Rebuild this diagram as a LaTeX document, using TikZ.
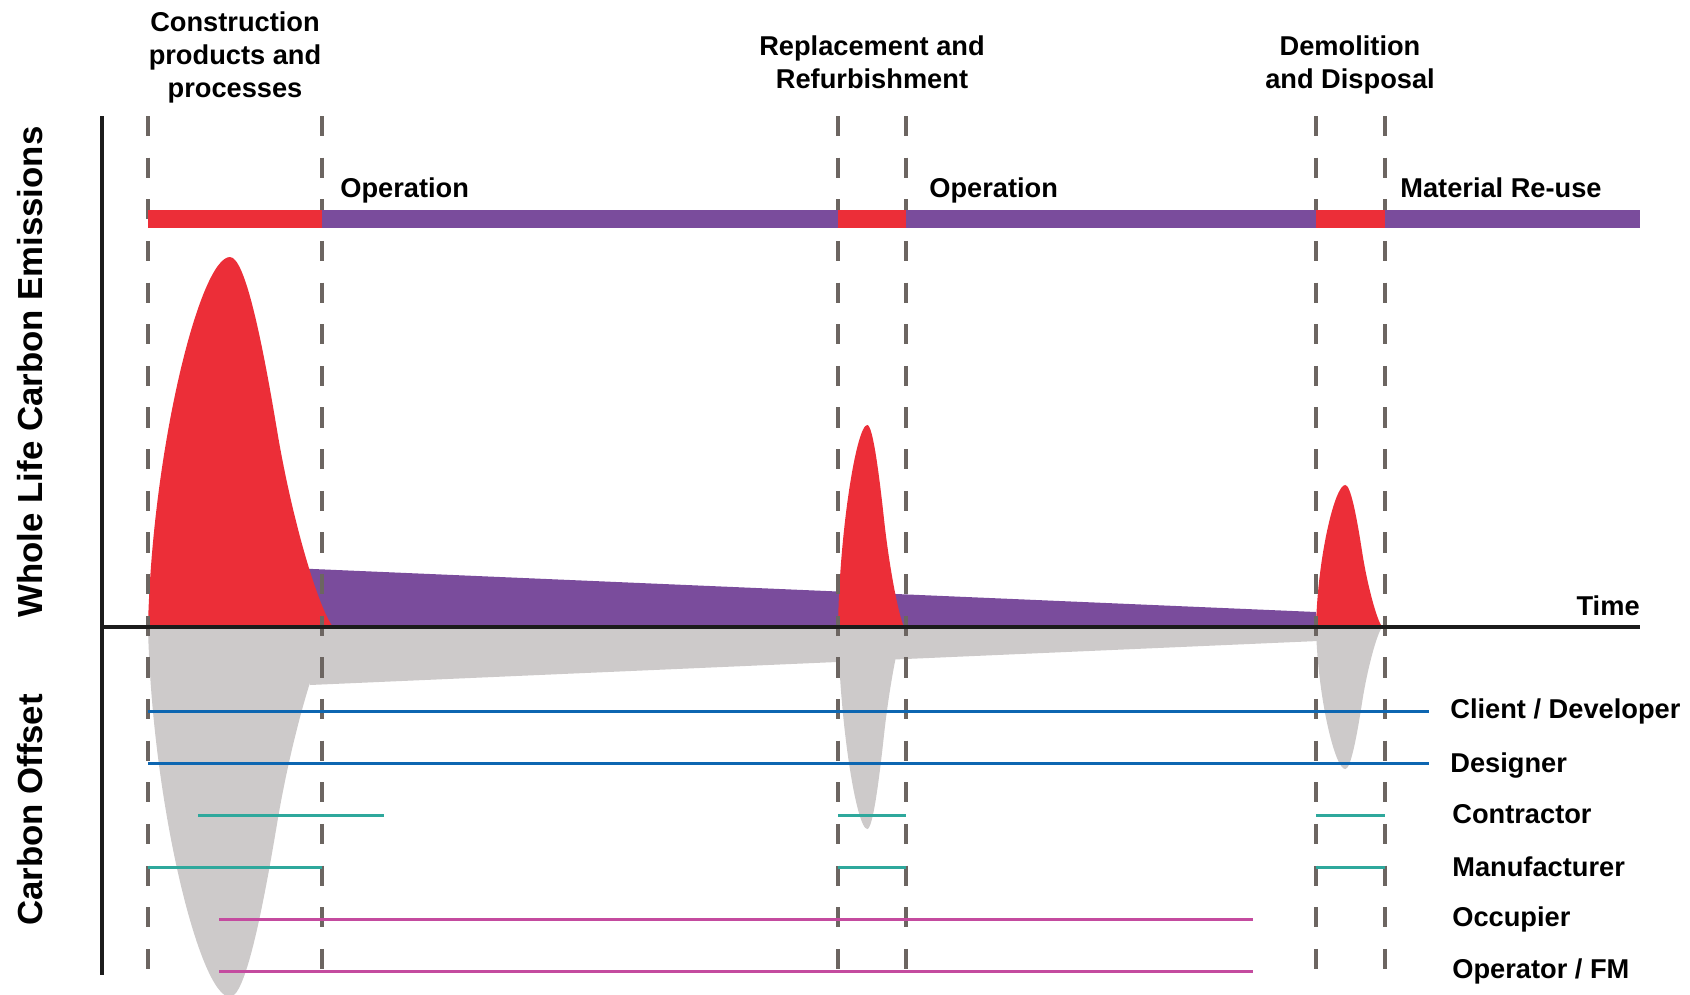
\documentclass[tikz,border=0pt]{standalone}
\usepackage{fontspec}
\setmainfont{Liberation Sans}

\definecolor{embodiedred}{HTML}{EC2E38}
\definecolor{operpurple}{HTML}{7A4C9C}
\definecolor{offsetgrey}{HTML}{CDCACA}
\definecolor{phasegrey}{HTML}{6C6561}
\definecolor{clientblue}{HTML}{0D66B1}
\definecolor{buildteal}{HTML}{2EA89C}
\definecolor{usermagenta}{HTML}{C44B9F}
\definecolor{axisblack}{HTML}{1C1C1C}

% one carbon peak, base from (0,0) to (185,0), 370 high
\newcommand{\carbonpeak}{(0,0) .. controls (4,-177) and (52,-370) .. (82,-370)
  .. controls (97,-370) and (114,-287) .. (129,-197)
  .. controls (144,-107) and (170,-20) .. (185,0) -- cycle}

\begin{document}
\begin{tikzpicture}[x=0.02cm, y=-0.02cm,
    phaseline/.style={draw=phasegrey, line width=1.8pt, dash pattern=on 11.5pt off 12.2pt},
    axisline/.style={draw=axisblack, line width=1.8pt},
    roleline/.style={line width=1.7pt},
    stagetext/.style={font=\bfseries\fontsize{15.5}{18.8}\selectfont, inner sep=0pt, align=center},
    roletext/.style={font=\bfseries\fontsize{15.5}{18.8}\selectfont, inner sep=0pt, anchor=base west},
    axistext/.style={font=\bfseries\fontsize{19.8}{22}\selectfont, inner sep=0pt, rotate=90, anchor=base}]
\useasboundingbox (0,0) rectangle (1690,994);

% operational carbon and offset band
\fill[operpurple] (290,568) -- (1316,612) -- (1316,627) -- (290,627) -- cycle;
\fill[offsetgrey] (300,627) -- (310,685) -- (1318,641) -- (1318,627) -- cycle;

% embodied peaks
\begin{scope}[shift={(148,627)}]
  \fill[embodiedred] \carbonpeak;
\end{scope}
\begin{scope}[shift={(838,627)}, xscale=0.357, yscale=0.546]
  \fill[embodiedred] \carbonpeak;
\end{scope}
\begin{scope}[shift={(1316,627)}, xscale=0.357, yscale=0.384]
  \fill[embodiedred] \carbonpeak;
\end{scope}

% offset peaks
\begin{scope}[shift={(148,627)}, yscale=-1]
  \fill[offsetgrey] \carbonpeak;
\end{scope}
\begin{scope}[shift={(838,627)}, xscale=0.357, yscale=-0.546]
  \fill[offsetgrey] \carbonpeak;
\end{scope}
\begin{scope}[shift={(1316,627)}, xscale=0.357, yscale=-0.384]
  \fill[offsetgrey] \carbonpeak;
\end{scope}

% stage boundaries
\draw[phaseline] (148,116) -- (148,972);
\draw[phaseline] (322,116) -- (322,972);
\draw[phaseline] (838,116) -- (838,972);
\draw[phaseline] (906,116) -- (906,972);
\draw[phaseline] (1316,116) -- (1316,972);
\draw[phaseline] (1385,116) -- (1385,972);

% life cycle bar
\fill[embodiedred] (148,210) rectangle (322,228);
\fill[operpurple] (322,210) rectangle (838,228);
\fill[embodiedred] (838,210) rectangle (906,228);
\fill[operpurple] (906,210) rectangle (1316,228);
\fill[embodiedred] (1316,210) rectangle (1385,228);
\fill[operpurple] (1385,210) rectangle (1640,228);

% who is involved
\draw[roleline, clientblue] (148,711) -- (1429,711);
\draw[roleline, clientblue] (148,763) -- (1429,763);
\draw[roleline, buildteal] (198,815) -- (384,815);
\draw[roleline, buildteal] (838,815) -- (906,815);
\draw[roleline, buildteal] (1316,815) -- (1385,815);
\draw[roleline, buildteal] (148,867) -- (322,867);
\draw[roleline, buildteal] (838,867) -- (906,867);
\draw[roleline, buildteal] (1316,867) -- (1385,867);
\draw[roleline, usermagenta] (219,919) -- (1253,919);
\draw[roleline, usermagenta] (219,971) -- (1253,971);

% axes
\draw[axisline] (102,116) -- (102,975);
\draw[axisline] (102,627) -- (1640,627);

\node[stagetext, anchor=north] (construction) at (235,11) {Construction\\products and\\processes};
\node[stagetext, anchor=north] (replacement) at (872,35) {Replacement and\\Refurbishment};
\node[stagetext, anchor=north] (demolition) at (1350,35) {Demolition\\and Disposal};

\node[roletext] (operation1) at (340,197) {Operation};
\node[roletext] (operation2) at (929,197) {Operation};
\node[roletext] (reuse) at (1400,197) {Material Re-use};
\node[roletext, anchor=base east] (time) at (1640,615) {Time};

\node[axistext] (emissions) at (42,372) {Whole Life Carbon Emissions};
\node[axistext] (offset) at (42,810) {Carbon Offset};

\node[roletext] (client) at (1450,718) {Client / Developer};
\node[roletext] (designer) at (1450,772) {Designer};
\node[roletext] (contractor) at (1452,823) {Contractor};
\node[roletext] (manufacturer) at (1452,876) {Manufacturer};
\node[roletext] (occupier) at (1452,926) {Occupier};
\node[roletext] (operator) at (1452,978) {Operator / FM};
\end{tikzpicture}
\end{document}
